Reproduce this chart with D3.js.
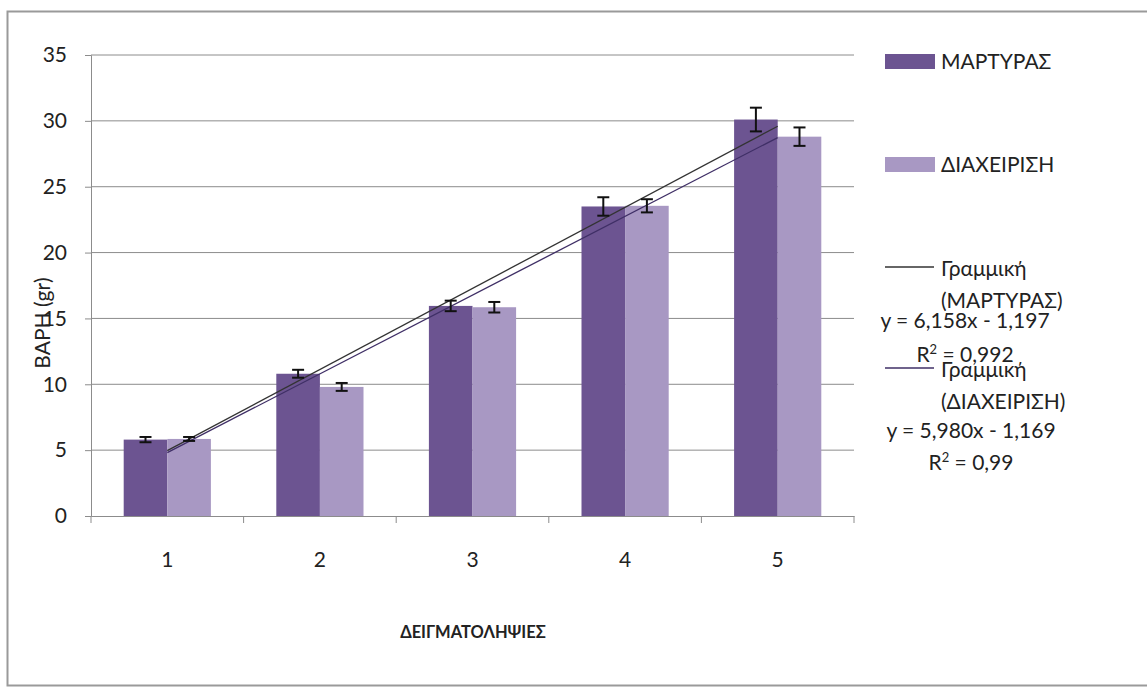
<!DOCTYPE html>
<html>
<head>
<meta charset="utf-8">
<script src="https://cdn.jsdelivr.net/npm/d3@7"></script>
<style>
  body { margin: 0; background: #fff; }
  text { font-family: Lato, "Open Sans", sans-serif; fill: #222; }
</style>
</head>
<body>
<div id="chart"></div>
<script>
const categories = ["1", "2", "3", "4", "5"];
const seriesNames = ["ΜΑΡΤΥΡΑΣ", "ΔΙΑΧΕΙΡΙΣΗ"];
const martyras = [5.8, 10.8, 15.95, 23.5, 30.1];
const diaxeirisi = [5.85, 9.8, 15.85, 23.55, 28.8];
const errMartyras = [0.2, 0.3, 0.4, 0.7, 0.9];
const errDiaxeirisi = [0.15, 0.3, 0.4, 0.5, 0.7];
const yTicks = [0, 5, 10, 15, 20, 25, 30, 35];
// trend lines y = a*x + b (shown in legend)
const trendSlope = [6.158, 5.980];
const trendIntercept = [-1.197, -1.169];
const trendLabels = ["y = 6,158x - 1,197", "y = 5,980x - 1,169"];
const r2Labels = ["0,992", "0,99"];

const colors = ["#6c5491", "#a898c3"];
const trendColors = ["#333333", "#3f2f66"];

const W = 1147, H = 688;
const plotLeft = 91, plotRight = 854, plotTop = 55, plotBottom = 516;

const svg = d3.select("#chart").append("svg")
    .attr("width", W).attr("height", H);

// outer frame
svg.append("rect")
    .attr("x", 7.5).attr("y", 11.5).attr("width", W + 10).attr("height", 674)
    .attr("fill", "none").attr("stroke", "#9a9a9a").attr("stroke-width", 2);

const x = d3.scaleBand().domain(categories).range([plotLeft, plotRight]).paddingInner(0).paddingOuter(0);
const xs = d3.scaleBand().domain(seriesNames).range([0, x.bandwidth()]).paddingInner(0).paddingOuter(0.75);
const y = d3.scaleLinear().domain([0, 35]).range([plotBottom, plotTop]);

// gridlines
svg.append("g").selectAll("line").data(yTicks.filter(d => d > 0)).join("line")
    .attr("x1", plotLeft).attr("x2", plotRight)
    .attr("y1", d => y(d)).attr("y2", d => y(d))
    .attr("stroke", "#8c8c8c").attr("stroke-width", 1);

// y axis
const yAxis = svg.append("g").attr("transform", `translate(${plotLeft},0)`)
    .call(d3.axisLeft(y).tickValues(yTicks).tickSize(6).tickPadding(18));
yAxis.select(".domain").attr("stroke", "#8c8c8c");
yAxis.selectAll(".tick line").attr("stroke", "#8c8c8c");
yAxis.selectAll("text").style("font-size", "21px").attr("fill", "#333");

// x axis
const xAxis = svg.append("g").attr("transform", `translate(0,${plotBottom})`)
    .call(d3.axisBottom(x).tickSize(0).tickPadding(36));
xAxis.select(".domain").attr("stroke", "#8c8c8c");
xAxis.selectAll("text").style("font-size", "21px").attr("fill", "#333");
// tick marks at category boundaries
xAxis.append("g").selectAll("line").data(categories.concat(["end"])).join("line")
    .attr("x1", (d, i) => plotLeft + i * x.step()).attr("x2", (d, i) => plotLeft + i * x.step())
    .attr("y1", 0).attr("y2", 7).attr("stroke", "#8c8c8c");

// bars
const data = [martyras, diaxeirisi];
const errs = [errMartyras, errDiaxeirisi];
data.forEach((vals, s) => {
    const g = svg.append("g");
    g.selectAll("rect").data(vals).join("rect")
        .attr("x", (d, i) => x(categories[i]) + xs(seriesNames[s]))
        .attr("y", d => y(d))
        .attr("width", xs.bandwidth())
        .attr("height", d => y(0) - y(d))
        .attr("fill", colors[s]);
});

// trend lines
trendSlope.forEach((a, s) => {
    const b = trendIntercept[s];
    const x1 = 1, x2 = 5;
    svg.append("line")
        .attr("x1", x(categories[x1 - 1]) + x.bandwidth() / 2)
        .attr("y1", y(a * x1 + b))
        .attr("x2", x(categories[x2 - 1]) + x.bandwidth() / 2)
        .attr("y2", y(a * x2 + b))
        .attr("stroke", trendColors[s]).attr("stroke-width", 1.3);
});

// error bars
data.forEach((vals, s) => {
    const g = svg.append("g").attr("stroke", "#111").attr("stroke-width", 2);
    vals.forEach((v, i) => {
        const cx = x(categories[i]) + xs(seriesNames[s]) + xs.bandwidth() / 2;
        const e = errs[s][i];
        g.append("line").attr("x1", cx).attr("x2", cx).attr("y1", y(v + e)).attr("y2", y(v - e));
        g.append("line").attr("x1", cx - 6).attr("x2", cx + 6).attr("y1", y(v + e)).attr("y2", y(v + e));
        g.append("line").attr("x1", cx - 6).attr("x2", cx + 6).attr("y1", y(v - e)).attr("y2", y(v - e));
    });
});

// axis titles
svg.append("text")
    .attr("transform", "translate(50,323) rotate(-90)")
    .attr("text-anchor", "middle")
    .style("font-size", "21px")
    .text("ΒΑΡΗ (gr)");
svg.append("text")
    .attr("x", 473).attr("y", 638)
    .attr("text-anchor", "middle")
    .style("font-size", "16.5px").style("font-weight", "bold")
    .text("ΔΕΙΓΜΑΤΟΛΗΨΙΕΣ");

// legend
const leg = svg.append("g");
const legY = [61, 164];
seriesNames.forEach((n, s) => {
    leg.append("rect").attr("x", 885).attr("y", legY[s] - 7).attr("width", 50).attr("height", 15).attr("fill", colors[s]);
    leg.append("text").attr("x", 941).attr("y", legY[s] + 8).style("font-size", "21px").text(n);
});
const trendLegY = [267, 368];
const eqX = [965, 971];
seriesNames.forEach((n, s) => {
    const ty = trendLegY[s];
    leg.append("line").attr("x1", 885).attr("x2", 934).attr("y1", ty).attr("y2", ty)
        .attr("stroke", trendColors[s]).attr("stroke-width", 1.3);
    leg.append("text").attr("x", 941).attr("y", ty + 9).style("font-size", "21px").text("Γραμμική");
    leg.append("text").attr("x", 941).attr("y", ty + 41).style("font-size", "21px").text("(" + n + ")");
    leg.append("text").attr("x", eqX[s]).attr("y", ty + 61 + s * 9).attr("text-anchor", "middle")
        .style("font-size", "21px").text(trendLabels[s]);
    const r = leg.append("text").attr("x", eqX[s]).attr("y", ty + 95 + s * 7).attr("text-anchor", "middle")
        .style("font-size", "21px");
    r.append("tspan").text("R");
    r.append("tspan").attr("dy", -8).style("font-size", "13px").text("2");
    r.append("tspan").attr("dy", 8).text(" = " + r2Labels[s]);
});
</script>
</body>
</html>
